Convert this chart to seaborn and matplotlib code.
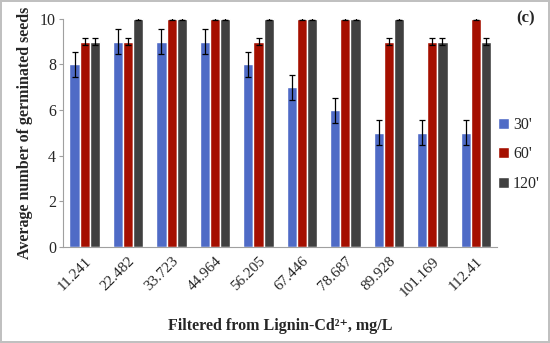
import pandas as pd
import matplotlib.pyplot as plt
import seaborn as sns

# values
concentrations = ["11.241", "22.482", "33.723", "44.964", "56.205",
                  "67.446", "78.687", "89.928", "101.169", "112.41"]
times = ["30'", "60'", "120'"]
seeds_30 = [8, 9, 9, 9, 8, 7, 6, 5, 5, 5]
seeds_60 = [9, 9, 10, 10, 9, 10, 10, 9, 9, 10]
seeds_120 = [9, 10, 10, 10, 10, 10, 10, 10, 9, 9]
err_30 = [0.55, 0.55, 0.55, 0.55, 0.55, 0.55, 0.55, 0.55, 0.55, 0.55]
err_60 = [0.15, 0.15, 0.05, 0.05, 0.15, 0.05, 0.05, 0.15, 0.15, 0.05]
err_120 = [0.15, 0.05, 0.05, 0.05, 0.05, 0.05, 0.05, 0.05, 0.15, 0.15]

colors = ["#4f6bc6", "#a50f00", "#404040"]

rows = []
for t, vals, errs in zip(times, [seeds_30, seeds_60, seeds_120], [err_30, err_60, err_120]):
    for c, v, e in zip(concentrations, vals, errs):
        rows.append({"conc": c, "time": t, "seeds": v, "err": e})
df = pd.DataFrame(rows)

sns.set_style("white")
plt.rcParams["font.family"] = ["Liberation Serif", "DejaVu Serif"]

fig = plt.figure(figsize=(5.5, 3.43), dpi=100, edgecolor="#c0c0c0", linewidth=1.5)
ax = fig.add_axes([0.1145, 0.28, 0.79, 0.665])

sns.barplot(data=df, x="conc", y="seeds", hue="time", order=concentrations,
            hue_order=times, palette=colors, width=0.7, errorbar=None,
            saturation=1, ax=ax, legend=True)

# error bars at bar centres
for container, t in zip(ax.containers, times):
    sub = df[df["time"] == t].set_index("conc").loc[concentrations]
    xs = [p.get_x() + p.get_width() / 2 for p in container.patches]
    ax.errorbar(xs, sub["seeds"], yerr=sub["err"], fmt="none", ecolor="black",
                elinewidth=0.9, capsize=2.2, capthick=0.9)

ax.set_ylim(0, 10)
ax.set_yticks([0, 2, 4, 6, 8, 10])
ax.set_xlim(-0.5, len(concentrations) - 0.5)
for side in ["top", "right"]:
    ax.spines[side].set_visible(False)
for side in ["left", "bottom"]:
    ax.spines[side].set_color("#a0a0a0")
    ax.spines[side].set_linewidth(0.8)
ax.tick_params(axis="y", left=True, length=3, color="#a0a0a0", labelsize=11.5, pad=2)
ax.tick_params(axis="x", bottom=False, labelsize=11, pad=2)
plt.setp(ax.get_xticklabels(), rotation=45, ha="right", rotation_mode="anchor")

ax.set_xlabel("Filtered from Lignin-Cd²⁺, mg/L", fontweight="bold", fontsize=11.5, labelpad=14)
ax.set_ylabel("Average number of germinated seeds", fontweight="bold", fontsize=11.5, labelpad=5)

handles, labels = ax.get_legend_handles_labels()
ax.legend_.remove()
fig.legend(handles, labels, loc="center left", bbox_to_anchor=(0.905, 0.55),
           frameon=False, fontsize=11.5, handlelength=0.7, handleheight=0.7,
           handletextpad=0.25, labelspacing=0.85, borderpad=0, borderaxespad=0)

fig.text(0.955, 0.935, "(c)", fontweight="bold", fontsize=12, ha="center")

fig.savefig("out.png", dpi=100, edgecolor=fig.get_edgecolor())
